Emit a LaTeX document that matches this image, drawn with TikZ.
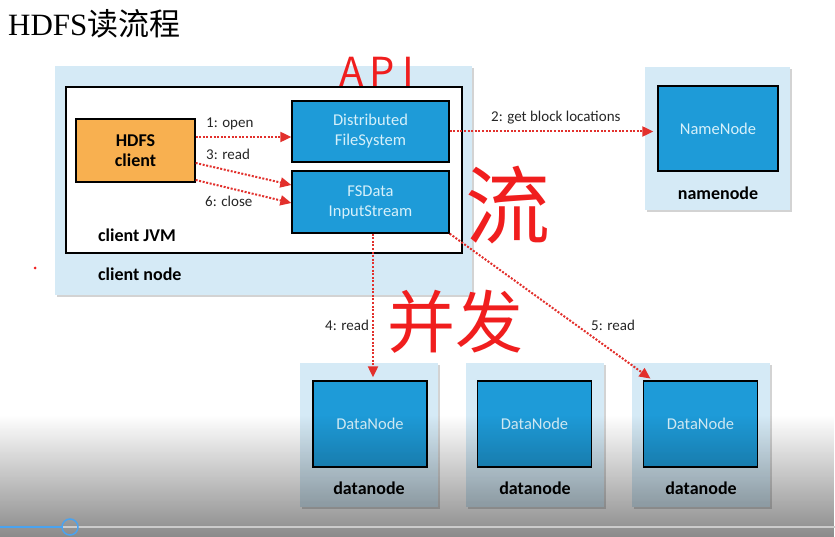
\documentclass[tikz,border=0pt]{standalone}
\usepackage{fontspec}
\setmainfont{Liberation Serif}
\newfontfamily\diafont{Carlito}
\newfontfamily\cjk{Noto Sans CJK SC}
\usetikzlibrary{arrows.meta,shadows,fadings}

\definecolor{hostblue}{RGB}{213,234,246}
\definecolor{procblue}{RGB}{30,155,216}
\definecolor{proctext}{RGB}{214,240,250}
\definecolor{clientorange}{RGB}{248,176,80}
\definecolor{callred}{RGB}{226,48,44}
\definecolor{penred}{RGB}{240,30,30}
\definecolor{progblue}{RGB}{74,163,240}

\begin{document}
\begin{tikzpicture}[
  x=1pt, y=-1pt,
  host/.style={fill=hostblue,drop shadow={shadow xshift=2pt,shadow yshift=-2pt,opacity=0.35}},
  proc/.style={draw=black,line width=1.3pt,fill=procblue,text=proctext,align=center,font=\diafont\fontsize{16.5}{20}\selectfont},
  hostlabel/.style={font=\diafont\bfseries\fontsize{18}{20}\selectfont},
  call/.style={draw=callred,line width=2pt,dash pattern=on 2pt off 1.6pt,-{Triangle[length=11pt,width=10pt]}},
  calllabel/.style={anchor=base west,inner sep=0pt,text=black!85,font=\diafont\fontsize{15}{16}\selectfont},
  pen/.style={text=penred,font=\cjk}
]
  \useasboundingbox (0,0) rectangle (835,537);
  \node[anchor=base west,inner sep=0pt,font=\fontsize{31}{36}\selectfont] (title) at (8,36) {HDFS{\cjk 读流程}};

  % client side
  \node[host,minimum width=417,minimum height=229] (cnode) at (263.5,180.5) {};
  \node[draw=black,line width=1.3pt,fill=white,minimum width=396,minimum height=166] (jvm) at (264,170) {};
  \node[hostlabel,anchor=base west,inner sep=0pt] (jvmlabel) at (98,242) {client JVM};
  \node[hostlabel,anchor=base west,inner sep=0pt] (cnodelabel) at (98,281) {client node};
  \node[draw=black,line width=1.3pt,fill=clientorange,align=center,minimum width=119,minimum height=63,font=\diafont\bfseries\fontsize{18}{20}\selectfont] (client) at (135.5,150.5) {HDFS\\client};
  \node[proc,minimum width=157,minimum height=61] (dfs) at (370.5,131.5) {Distributed\\FileSystem};
  \node[proc,minimum width=157,minimum height=62] (fsin) at (370.5,202) {FSData\\InputStream};

  % namenode
  \node[host,minimum width=145,minimum height=143] (nnhost) at (717.5,138.5) {};
  \node[proc,minimum width=120,minimum height=85] (nn) at (718,128.5) {NameNode};
  \node[hostlabel] (nnlabel) at (718,193) {namenode};

  % datanodes
  \node[host,minimum width=138,minimum height=144] (dnhost1) at (369,435) {};
  \node[proc,minimum width=114,minimum height=86] (dn1) at (370,424) {DataNode};
  \node[hostlabel] (dnlabel1) at (369,488) {datanode};
  \node[host,minimum width=138,minimum height=144] (dnhost2) at (535,435) {};
  \node[proc,minimum width=114,minimum height=86] (dn2) at (534.5,424) {DataNode};
  \node[hostlabel] (dnlabel2) at (535,488) {datanode};
  \node[host,minimum width=138,minimum height=144] (dnhost3) at (701,435) {};
  \node[proc,minimum width=114,minimum height=86] (dn3) at (700.5,424) {DataNode};
  \node[hostlabel] (dnlabel3) at (701,488) {datanode};

  % calls
  \draw[call] ([yshift=13.5pt]client.east) -- ([yshift=-5.5pt]dfs.west);
  \draw[call] ([yshift=-12.5pt]client.east) -- ([yshift=17pt]fsin.west);
  \draw[call] ([yshift=-29.5pt]client.east) -- ([yshift=-1pt]fsin.west);
  \draw[call,shorten >=4pt] (dfs.east) -- (dfs.east -| nn.west);
  \draw[call,shorten >=3pt] ([xshift=2.5pt]fsin.south) -- ([xshift=2.5pt]fsin.south |- dn1.north);
  \draw[call,shorten >=3pt] (fsin.south east) -- ([xshift=10pt]dn3.north west);
  \node[calllabel] (l1) at (206,128) {1: open};
  \node[calllabel] (l3) at (206,160) {3: read};
  \node[calllabel] (l6) at (205,207) {6: close};
  \node[calllabel] (l2) at (491,122) {2: get block locations};
  \node[calllabel] (l4) at (325,330) {4: read};
  \node[calllabel] (l5) at (591,330) {5: read};

  % pen notes
  \node[pen,font=\cjk\fontsize{40}{40}\selectfont] (api) at (377,72) {A\hspace{6pt}P\hspace{8pt}I};
  \node[pen,font=\cjk\fontsize{85}{85}\selectfont] (liu) at (508,205) {流};
  \node[pen,font=\cjk\fontsize{68}{68}\selectfont] (bingfa) at (455,322) {并发};
  \fill[penred] (35,268) circle (1.5);

  % player overlay
  \fill[black,opacity=0.46,path fading=north] (0,415) rectangle (835,537);
  \draw[line width=2pt,black!20] (0,527) -- (835,527);
  \draw[line width=2pt,progblue] (0,527) -- (62,527);
  \draw[line width=1.5pt,progblue] (70,527) circle (8);
\end{tikzpicture}
\end{document}
